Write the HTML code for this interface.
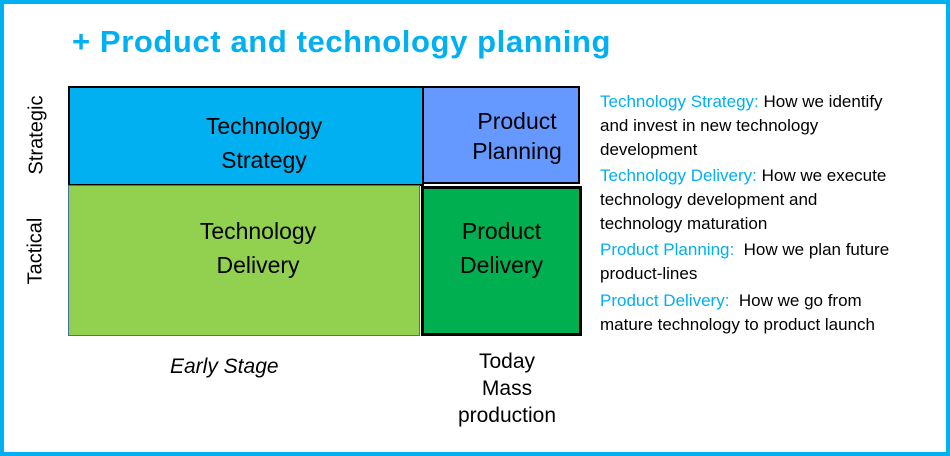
<!DOCTYPE html>
<html><head><style>
body{margin:0;width:950px;height:456px;overflow:hidden;background:#fff;font-family:"Liberation Sans",sans-serif}
.frame{position:absolute;left:0;top:0;width:942px;height:448px;border:4px solid #00b0f0}
.b{position:absolute;box-sizing:border-box;border:2px solid #000;display:flex;align-items:center;justify-content:center;text-align:center;font-size:23px;line-height:34px;color:#000}
.t{position:absolute;font-size:17px;line-height:24px;color:#000;white-space:nowrap}
.c{color:#00b0f0}
</style></head><body>
<div class="frame"></div>
<div style="position:absolute;left:72px;top:24px;font-size:31px;font-weight:bold;color:#00b0f0;letter-spacing:0.6px;white-space:nowrap">+ Product and technology planning</div>
<div class="b" style="left:68px;top:86px;width:356px;height:100px;background:#00b0f0"><div style="margin-left:36px;margin-top:14px">Technology<br>Strategy</div></div>
<div class="b" style="left:422px;top:86px;width:158px;height:98px;background:#6699ff"><div style="margin-left:32px;line-height:30px;margin-top:2px">Product<br>Planning</div></div>
<div class="b" style="left:68px;top:185px;width:352px;height:151px;background:#92d050;border:1px solid #41719c"><div style="margin-left:28px;margin-bottom:26px">Technology<br>Delivery</div></div>
<div class="b" style="left:421px;top:186px;width:161px;height:150px;background:#00b050;border-width:3px"><div style="margin-bottom:26px">Product<br>Delivery</div></div>
<div style="position:absolute;left:37px;top:135px;transform:translate(-50%,-50%) rotate(-90deg);font-size:20px;white-space:nowrap">Strategic</div>
<div style="position:absolute;left:36px;top:251px;transform:translate(-50%,-50%) rotate(-90deg);font-size:20px;white-space:nowrap">Tactical</div>
<div style="position:absolute;left:170px;top:355px;font-size:21px;font-style:italic">Early Stage</div>
<div style="position:absolute;left:440px;top:348px;width:134px;text-align:center;font-size:21px;line-height:27px">Today<br>Mass<br>production</div>
<div class="t" style="left:600px;top:90px"><span class="c">Technology Strategy:</span> How we identify<br>and invest in new technology<br>development</div>
<div class="t" style="left:600px;top:164px"><span class="c">Technology Delivery:</span> How we execute<br>technology development and<br>technology maturation</div>
<div class="t" style="left:600px;top:238px"><span class="c">Product Planning:</span>&nbsp; How we plan future<br>product-lines</div>
<div class="t" style="left:600px;top:289px"><span class="c">Product Delivery:</span>&nbsp; How we go from<br>mature technology to product launch</div>
</body></html>
